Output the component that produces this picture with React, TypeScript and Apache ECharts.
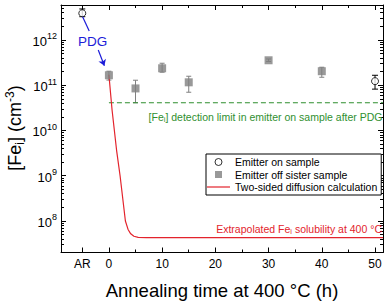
import React, { useEffect, useRef } from 'react';
import * as echarts from 'echarts';

const FONT = '"Liberation Sans", Arial, Helvetica, sans-serif';

// ---- axes ----
const xMin = -9;
const xMax = 51.5;
const xMajorTicks = [-5, 0, 10, 20, 30, 40, 50];
const xMinorTicks = [5, 15, 25, 35, 45];
const xLabelValues = [-5, 0, 10, 20, 30, 40, 50];
const xLabelTexts = ['AR', '0', '10', '20', '30', '40', '50'];

const yMinValue = 2.01e7;
const yMaxValue = 5.93e12;
const yMajorTicks = [1e8, 1e9, 1e10, 1e11, 1e12];
const yMinorMultipliers = [2, 3, 4, 5, 6, 7, 8, 9];
const yDecades = [1e7, 1e8, 1e9, 1e10, 1e11, 1e12];

// ---- data ----
const onSampleX = [-5, 50];
const onSampleFe = [3.9e12, 1.23e11];
const onSampleLow = [3.27e12, 8.2e10];
const onSampleHigh = [4.85e12, 1.66e11];

const sisterX = [0, 5, 10, 15, 30, 40];
const sisterFe = [1.66e11, 8.5e10, 2.37e11, 1.16e11, 3.56e11, 2.04e11];
const sisterLow = [1.3e11, 4.1e10, 1.94e11, 7.0e10, 3.35e11, 1.5e11];
const sisterHigh = [2.04e11, 1.29e11, 3.06e11, 1.58e11, 3.8e11, 2.5e11];

const diffT = [0, 0.6, 1.45, 2.1, 3.1, 3.6, 4.1, 4.7, 5.5, 7, 51.5];
const diffFe = [1.7e11, 2.8e10, 3.6e9, 1e9, 1e8, 6.5e7, 5.2e7, 4.6e7, 4.35e7, 4.3e7, 4.3e7];

const detectionLimit = 4.1e10;
const detectionStartT = 0;

const pdgArrowA = [[-4.94, 3.27e12], [-3.7, 1.58e12]];
const pdgArrowB = [[-2.0, 6.0e11], [-0.85, 2.7e11]];

const RED = '#e3232c';
const GREEN = '#2f8f2f';
const BLUE = '#1c1cd8';
const GRAY = '#808080';

const L = (v: number) => Math.log10(v);

function errorBarSeries(name: string, xs: number[], lo: number[], hi: number[], color: string, half: number) {
  return {
    type: 'custom',
    name,
    z: 1,
    silent: true,
    encode: { x: 0, y: [1, 2] },
    data: xs.map((x, i) => [x, L(lo[i]), L(hi[i])]),
    renderItem: (params: any, api: any) => {
      const x = api.value(0);
      const p1 = api.coord([x, api.value(1)]);
      const p2 = api.coord([x, api.value(2)]);
      const style = { stroke: color, lineWidth: 1 };
      return {
        type: 'group',
        children: [
          { type: 'line', shape: { x1: p1[0], y1: p1[1], x2: p2[0], y2: p2[1] }, style },
          { type: 'line', shape: { x1: p1[0] - half, y1: p1[1], x2: p1[0] + half, y2: p1[1] }, style },
          { type: 'line', shape: { x1: p2[0] - half, y1: p2[1], x2: p2[0] + half, y2: p2[1] }, style },
        ],
      };
    },
  };
}

export default function App() {
  const ref = useRef<HTMLDivElement>(null);

  useEffect(() => {
    if (!ref.current) return;
    const chart = echarts.init(ref.current, null, { renderer: 'svg' });

    const yMin = L(yMinValue);
    const yMax = L(yMaxValue);
    const yMajor = yMajorTicks.map(L);
    const yMinor: number[] = [];
    yDecades.forEach((d) =>
      yMinorMultipliers.forEach((k) => {
        const v = L(k * d);
        if (v > yMin && v < yMax) yMinor.push(v);
      })
    );

    const lineStyle = { color: '#000', width: 1 };
    const xBase = {
      type: 'value',
      min: xMin,
      max: xMax,
      splitLine: { show: false },
      axisLine: { show: true, onZero: false, lineStyle },
    };
    const yBase = {
      type: 'value',
      min: yMin,
      max: yMax,
      splitLine: { show: false },
      axisLine: { show: true, onZero: false, lineStyle },
    };
    const majorTick = (vals: number[]) => ({ show: true, inside: true, length: 5, customValues: vals, lineStyle });
    const minorTick = (vals: number[]) => ({ show: true, inside: true, length: 3, customValues: vals, lineStyle });

    const option: any = {
      animation: false,
      grid: { left: 61, right: 3, top: 5, bottom: 49.5, outerBoundsMode: 'none', containLabel: false },
      xAxis: [
        {
          ...xBase,
          position: 'bottom',
          axisTick: majorTick(xMajorTicks),
          axisLabel: {
            customValues: xLabelValues,
            formatter: (v: number) => {
              const i = xLabelValues.indexOf(v);
              return i >= 0 ? xLabelTexts[i] : '';
            },
            fontSize: 12,
            fontFamily: FONT,
            color: '#000',
            margin: 5,
          },
          name: 'Annealing time at 400 °C (h)',
          nameLocation: 'middle',
          nameGap: 28,
          nameTextStyle: { fontSize: 18.5, fontFamily: FONT, color: '#000' },
        },
        {
          ...xBase,
          position: 'bottom',
          axisLine: { show: false, onZero: false },
          axisTick: minorTick(xMinorTicks),
          axisLabel: { show: false },
        },
        {
          ...xBase,
          position: 'top',
          axisTick: majorTick(xMajorTicks),
          axisLabel: { show: false },
        },
        {
          ...xBase,
          position: 'top',
          axisLine: { show: false, onZero: false },
          axisTick: minorTick(xMinorTicks),
          axisLabel: { show: false },
        },
      ],
      yAxis: [
        {
          ...yBase,
          position: 'left',
          axisTick: majorTick(yMajor),
          axisLabel: {
            customValues: yMajor,
            formatter: (v: number) => `{b|10}{s|${Math.round(v)}}`,
            margin: 4,
            rich: {
              b: { fontSize: 13, lineHeight: 16, verticalAlign: 'bottom', fontFamily: FONT, color: '#000' },
              s: { fontSize: 9, lineHeight: 10, verticalAlign: 'top', fontFamily: FONT, color: '#000' },
            },
          },
        },
        {
          ...yBase,
          position: 'left',
          axisLine: { show: false, onZero: false },
          axisTick: minorTick(yMinor),
          axisLabel: { show: false },
        },
        {
          ...yBase,
          position: 'right',
          axisTick: majorTick(yMajor),
          axisLabel: { show: false },
        },
        {
          ...yBase,
          position: 'right',
          axisLine: { show: false, onZero: false },
          axisTick: minorTick(yMinor),
          axisLabel: { show: false },
        },
      ],
      legend: {
        data: [
          {
            name: 'Emitter on sample',
            icon: 'path://M5,0A5,5,0,1,1,5,10A5,5,0,1,1,5,0Z',
            itemStyle: { color: '#fff', borderColor: '#000', borderWidth: 1 },
          },
          {
            name: 'Emitter off sister sample',
            icon: 'path://M0,0H10V10H0Z',
            itemStyle: { color: GRAY, borderWidth: 0 },
          },
          {
            name: 'Two-sided diffusion calculation',
            icon: 'path://M0,0H23V1.2H0Z',
            itemStyle: { color: RED, borderWidth: 0 },
          },
        ],
        orient: 'vertical',
        left: 206,
        top: 154,
        backgroundColor: '#fff',
        borderColor: '#000',
        borderWidth: 1,
        borderRadius: 0,
        padding: [2, 4, 2, 1],
        itemGap: 0.5,
        itemWidth: 23,
        itemHeight: 7,
        selectedMode: false,
        textStyle: { fontSize: 10.5, fontFamily: FONT, color: '#000', lineHeight: 12 },
      },
      graphic: [
        {
          type: 'text',
          z: 10,
          x: 15,
          y: 128,
          rotation: Math.PI / 2,
          style: {
            text: '[Fe{sub|i}] (cm{sup|-3})',
            fill: '#000',
            font: `18px ${FONT}`,
            fontSize: 18,
            fontFamily: FONT,
            lineHeight: 22,
            align: 'center',
            verticalAlign: 'middle',
            rich: {
              sub: { font: `12px ${FONT}`, fontSize: 12, lineHeight: 12, verticalAlign: 'bottom', fontFamily: FONT, fill: '#000' },
              sup: { font: `12px ${FONT}`, fontSize: 12, lineHeight: 12, verticalAlign: 'top', fontFamily: FONT, fill: '#000' },
            },
          },
        },
        {
          type: 'text',
          z: 10,
          x: 92.5,
          y: 41,
          style: {
            text: 'PDG',
            fill: BLUE,
            fontSize: 13.5,
            fontFamily: FONT,
            align: 'center',
            verticalAlign: 'middle',
          },
        },
        {
          type: 'text',
          z: 10,
          x: 382.5,
          y: 117,
          style: {
            text: '[Fe{sub|i}] detection limit in emitter on sample after PDG',
            fill: GREEN,
            font: `10.5px ${FONT}`,
            fontSize: 10.5,
            fontFamily: FONT,
            lineHeight: 13,
            align: 'right',
            verticalAlign: 'middle',
            rich: {
              sub: { font: `7.5px ${FONT}`, fontSize: 7.5, lineHeight: 8, verticalAlign: 'bottom', fontFamily: FONT, fill: GREEN },
            },
          },
        },
        {
          type: 'text',
          z: 10,
          x: 382,
          y: 229,
          style: {
            text: 'Extrapolated Fe{sub|i} solubility at 400 °C',
            fill: RED,
            font: `10.5px ${FONT}`,
            fontSize: 10.5,
            fontFamily: FONT,
            lineHeight: 13,
            align: 'right',
            verticalAlign: 'middle',
            rich: {
              sub: { font: `7.5px ${FONT}`, fontSize: 7.5, lineHeight: 8, verticalAlign: 'bottom', fontFamily: FONT, fill: RED },
            },
          },
        },
      ],
      series: [
        errorBarSeries('sister-err', sisterX, sisterLow, sisterHigh, GRAY, 2.5),
        errorBarSeries('onsample-err', onSampleX, onSampleLow, onSampleHigh, '#000', 3),
        {
          type: 'line',
          name: 'detection',
          silent: true,
          symbol: 'none',
          z: 2,
          lineStyle: { color: GREEN, width: 1.2, type: [5, 3] },
          data: [
            [detectionStartT, L(detectionLimit)],
            [xMax, L(detectionLimit)],
          ],
        },
        {
          type: 'line',
          name: 'Two-sided diffusion calculation',
          symbol: 'none',
          showSymbol: false,
          z: 3,
          lineStyle: { color: RED, width: 1.2 },
          itemStyle: { color: RED },
          data: diffT.map((t, i) => [t, L(diffFe[i])]),
        },
        {
          type: 'scatter',
          name: 'Emitter off sister sample',
          symbol: 'rect',
          symbolSize: 8,
          z: 4,
          itemStyle: { color: GRAY },
          data: sisterX.map((x, i) => [x, L(sisterFe[i])]),
        },
        {
          type: 'scatter',
          name: 'Emitter on sample',
          symbol: 'circle',
          symbolSize: 7,
          z: 4,
          itemStyle: { color: '#fff', borderColor: '#000', borderWidth: 1 },
          data: onSampleX.map((x, i) => [x, L(onSampleFe[i])]),
          markLine: {
            silent: true,
            symbol: ['none', 'none'],
            symbolSize: 6,
            label: { show: false },
            lineStyle: { color: BLUE, width: 1.2, type: 'solid' },
            emphasis: { disabled: true },
            data: [
              [
                { coord: [pdgArrowA[0][0], L(pdgArrowA[0][1])], symbol: 'none' },
                { coord: [pdgArrowA[1][0], L(pdgArrowA[1][1])], symbol: 'none' },
              ],
              [
                { coord: [pdgArrowB[0][0], L(pdgArrowB[0][1])], symbol: 'none' },
                { coord: [pdgArrowB[1][0], L(pdgArrowB[1][1])], symbol: 'arrow' },
              ],
            ],
          },
        },
      ],
    };

    chart.setOption(option);
    return () => chart.dispose();
  }, []);

  return (
    <div
      ref={ref}
      style={{ position: 'fixed', left: 0, top: 0, width: 386, height: 302, background: '#fff' }}
    />
  );
}
